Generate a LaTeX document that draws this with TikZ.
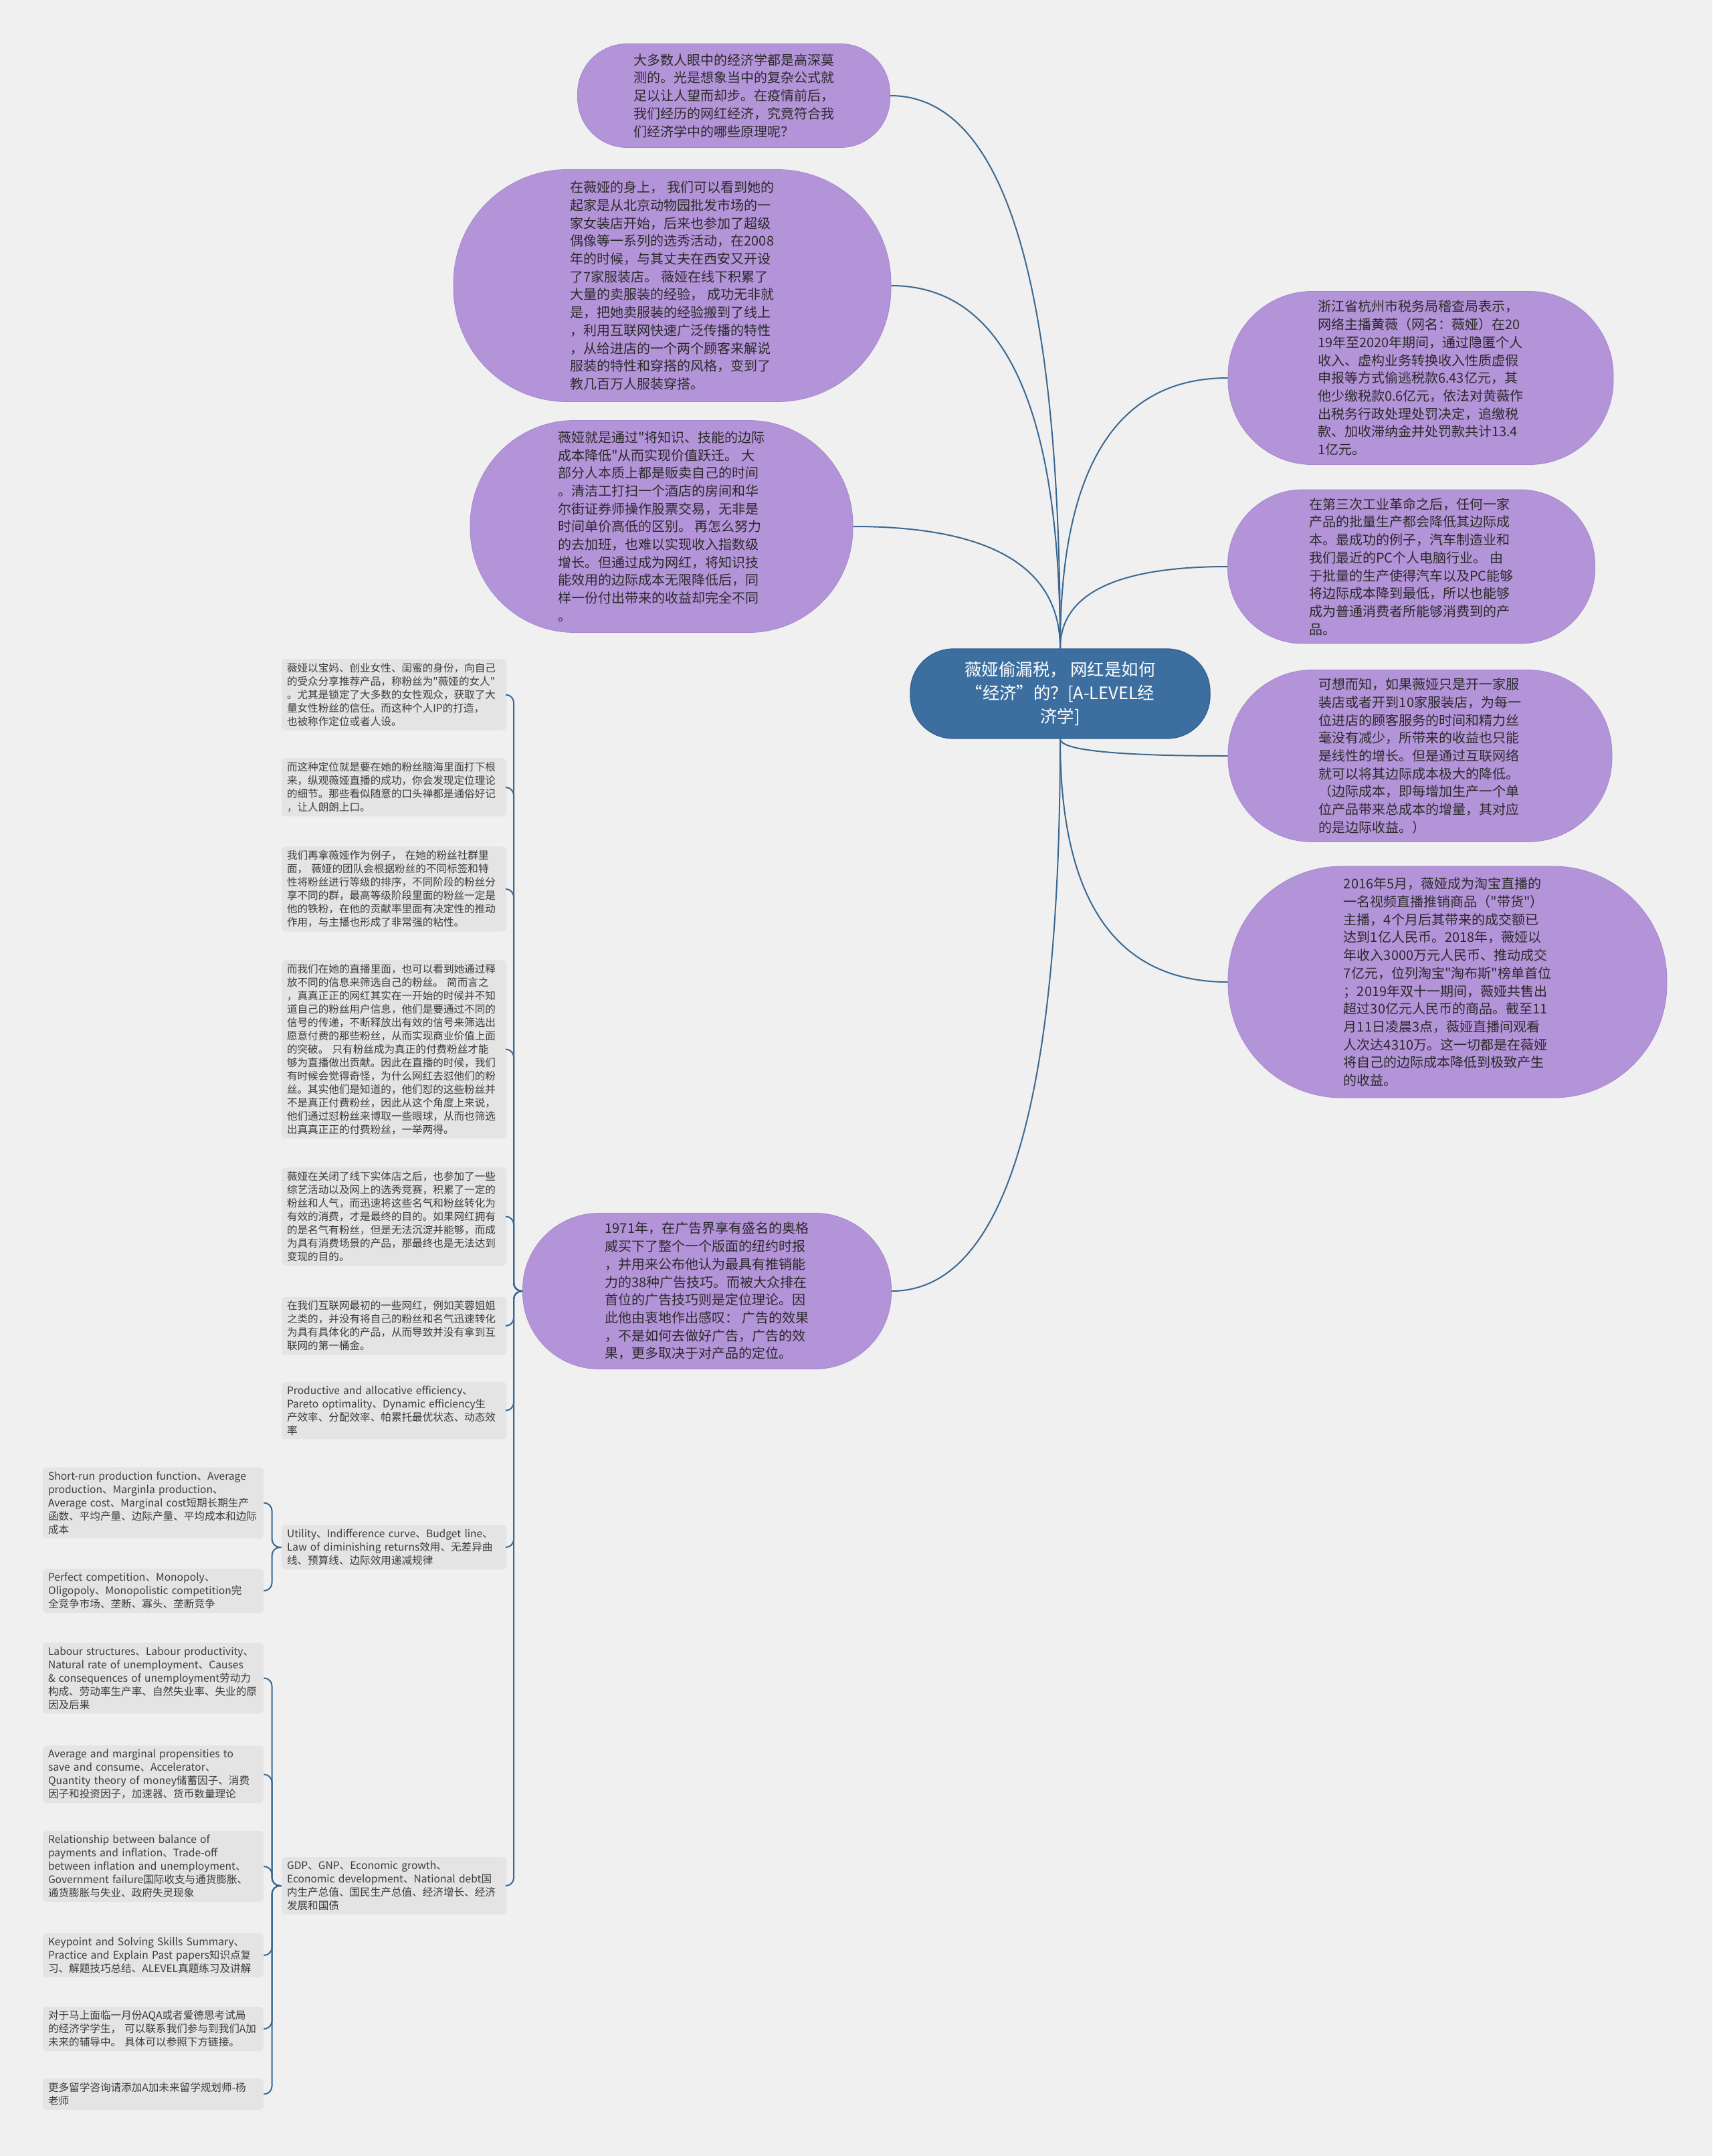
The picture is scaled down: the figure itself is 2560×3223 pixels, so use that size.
\documentclass[tikz,border=0pt]{standalone}
\usepackage{fontspec}
\setmainfont{Noto Sans CJK SC}
\newfontfamily\cjkfont{Noto Sans CJK SC}
\usetikzlibrary{calc}
\definecolor{bg}{HTML}{F0F0F0}
\definecolor{bubblefill}{HTML}{B494D8}
\definecolor{bubbleedge}{HTML}{A585CC}
\definecolor{centralfill}{HTML}{3C6FA0}
\definecolor{centraledge}{HTML}{2F5E8C}
\definecolor{linkcol}{HTML}{3A6891}
\definecolor{leaffill}{HTML}{E4E4E4}
\definecolor{ink}{HTML}{2A2A2A}
\definecolor{leafink}{HTML}{3C3C3C}
\tikzset{
  bubble/.style={draw=bubbleedge, line width=0.4pt, fill=bubblefill, text=ink, align=left, inner sep=0pt, font=\cjkfont\fontsize{10pt}{13.35pt}\selectfont},
  centralnode/.style={draw=centraledge, line width=0.6pt, fill=centralfill, text=white, align=center, inner sep=0pt, font=\cjkfont\fontsize{12.7pt}{17.5pt}\selectfont},
  leafbox/.style={fill=leaffill, rounded corners=3pt, text=leafink, text width=160pt, align=left, inner xsep=4pt, inner ysep=3pt, font=\cjkfont\fontsize{7.8pt}{10pt}\selectfont},
  subleaf/.style={leafbox, text width=157pt},
  conn/.style={draw=linkcol, line width=1pt},
  brk/.style={draw=linkcol, line width=1pt, rounded corners=6pt},
}
\newcommand\mmlink[3]{%
  \coordinate (#3) at (#1 |- #2);
  \draw[conn] (#1) .. controls ($(#1)!0.6667!(#3)$) and ($(#2)!0.6667!(#3)$) .. (#2);}
\begin{document}
\begin{tikzpicture}[x=0.5pt,y=-0.5pt]
\useasboundingbox (0,0) rectangle (2560,3223);
\fill[bg] (0,0) rectangle (2560,3223);

% central node
\node[centralnode, minimum width=224pt, minimum height=67pt, rounded corners=32pt] (c) at (1585,1037)
 {薇娅偷漏税， 网红是如何\\“经济”的？[A-LEVEL经\\济学]};

% left-side bubbles
\node[bubble, minimum width=233.5pt, minimum height=77.5pt, rounded corners=37pt] (t1) at (1097,143)
 {大多数人眼中的经济学都是高深莫\\测的。光是想象当中的复杂公式就\\足以让人望而却步。在疫情前后，\\我们经历的网红经济，究竟符合我\\们经济学中的哪些原理呢？};

\node[bubble, minimum width=327pt, minimum height=173.5pt, rounded corners=85pt] (t2) at (1005,427)
 {在薇娅的身上， 我们可以看到她的\\起家是从北京动物园批发市场的一\\家女装店开始，后来也参加了超级\\偶像等一系列的选秀活动，在2008\\年的时候，与其丈夫在西安又开设\\了7家服装店。 薇娅在线下积累了\\大量的卖服装的经验， 成功无非就\\是，把她卖服装的经验搬到了线上\\，利用互联网快速广泛传播的特性\\，从给进店的一个两个顾客来解说\\服装的特性和穿搭的风格，变到了\\教几百万人服装穿搭。};

\node[bubble, minimum width=286pt, minimum height=158.5pt, rounded corners=78pt] (t3) at (989,787)
 {薇娅就是通过"将知识、技能的边际\\成本降低"从而实现价值跃迁。 大\\部分人本质上都是贩卖自己的时间\\。清洁工打扫一个酒店的房间和华\\尔街证券师操作股票交易，无非是\\时间单价高低的区别。 再怎么努力\\的去加班，也难以实现收入指数级\\增长。但通过成为网红，将知识技\\能效用的边际成本无限降低后，同\\样一份付出带来的收益却完全不同\\。};

\node[bubble, minimum width=275.5pt, minimum height=116.5pt, rounded corners=57pt] (b) at (1057,1930)
 {1971年，在广告界享有盛名的奥格\\威买下了整个一个版面的纽约时报\\，并用来公布他认为最具有推销能\\力的38种广告技巧。而被大众排在\\首位的广告技巧则是定位理论。因\\此他由衷地作出感叹： 广告的效果\\，不是如何去做好广告，广告的效\\果，更多取决于对产品的定位。};

% right-side bubbles
\node[bubble, minimum width=288pt, minimum height=129.5pt, rounded corners=63pt] (r1) at (2124,565)
 {浙江省杭州市税务局稽查局表示，\\网络主播黄薇（网名：薇娅）在20\\19年至2020年期间，通过隐匿个人\\收入、虚构业务转换收入性质虚假\\申报等方式偷逃税款6.43亿元，其\\他少缴税款0.6亿元，依法对黄薇作\\出税务行政处理处罚决定，追缴税\\款、加收滞纳金并处罚款共计13.4\\1亿元。};

\node[bubble, minimum width=274.5pt, minimum height=115pt, rounded corners=56pt] (r2) at (2110,847)
 {在第三次工业革命之后，任何一家\\产品的批量生产都会降低其边际成\\本。最成功的例子，汽车制造业和\\我们最近的PC个人电脑行业。 由\\于批量的生产使得汽车以及PC能够\\将边际成本降到最低，所以也能够\\成为普通消费者所能够消费到的产\\品。};

\node[bubble, minimum width=287pt, minimum height=128.5pt, rounded corners=63pt] (r3) at (2123,1130)
 {可想而知，如果薇娅只是开一家服\\装店或者开到10家服装店，为每一\\位进店的顾客服务的时间和精力丝\\毫没有减少，所带来的收益也只能\\是线性的增长。但是通过互联网络\\就可以将其边际成本极大的降低。\\（边际成本，即每增加生产一个单\\位产品带来总成本的增量，其对应\\的是边际收益。）};

\node[bubble, minimum width=328pt, minimum height=173pt, rounded corners=85pt] (r4) at (2164,1468)
 {2016年5月，薇娅成为淘宝直播的\\一名视频直播推销商品（"带货"）\\主播，4个月后其带来的成交额已\\达到1亿人民币。2018年，薇娅以\\年收入3000万元人民币、推动成交\\7亿元，位列淘宝"淘布斯"榜单首位\\；2019年双十一期间，薇娅共售出\\超过30亿元人民币的商品。截至11\\月11日凌晨3点，薇娅直播间观看\\人次达4310万。这一切都是在薇娅\\将自己的边际成本降低到极致产生\\的收益。};

% left column leaves
\node[leafbox] (l1) at (589,1038.5)
 {薇娅以宝妈、创业女性、闺蜜的身份，向自己\\的受众分享推荐产品，称粉丝为"薇娅的女人"\\。尤其是锁定了大多数的女性观众，获取了大\\量女性粉丝的信任。而这种个人IP的打造，\\也被称作定位或者人设。};
\node[leafbox] (l2) at (589,1177)
 {而这种定位就是要在她的粉丝脑海里面打下根\\来，纵观薇娅直播的成功，你会发现定位理论\\的细节。那些看似随意的口头禅都是通俗好记\\，让人朗朗上口。};
\node[leafbox] (l3) at (589,1329)
 {我们再拿薇娅作为例子， 在她的粉丝社群里\\面， 薇娅的团队会根据粉丝的不同标签和特\\性将粉丝进行等级的排序，不同阶段的粉丝分\\享不同的群，最高等级阶段里面的粉丝一定是\\他的铁粉，在他的贡献率里面有决定性的推动\\作用，与主播也形成了非常强的粘性。};
\node[leafbox] (l4) at (589,1568.5)
 {而我们在她的直播里面，也可以看到她通过释\\放不同的信息来筛选自己的粉丝。 简而言之\\，真真正正的网红其实在一开始的时候并不知\\道自己的粉丝用户信息，他们是要通过不同的\\信号的传递，不断释放出有效的信号来筛选出\\愿意付费的那些粉丝，从而实现商业价值上面\\的突破。 只有粉丝成为真正的付费粉丝才能\\够为直播做出贡献。因此在直播的时候，我们\\有时候会觉得奇怪，为什么网红去怼他们的粉\\丝。其实他们是知道的，他们怼的这些粉丝并\\不是真正付费粉丝，因此从这个角度上来说，\\他们通过怼粉丝来博取一些眼球，从而也筛选\\出真真正正的付费粉丝，一举两得。};
\node[leafbox] (l5) at (589,1818.5)
 {薇娅在关闭了线下实体店之后，也参加了一些\\综艺活动以及网上的选秀竞赛，积累了一定的\\粉丝和人气，而迅速将这些名气和粉丝转化为\\有效的消费，才是最终的目的。如果网红拥有\\的是名气有粉丝，但是无法沉淀并能够，而成\\为具有消费场景的产品，那最终也是无法达到\\变现的目的。};
\node[leafbox] (l6) at (589,1982)
 {在我们互联网最初的一些网红，例如芙蓉姐姐\\之类的，并没有将自己的粉丝和名气迅速转化\\为具有具体化的产品，从而导致并没有拿到互\\联网的第一桶金。};
\node[leafbox] (l7) at (589,2108.5)
 {Productive and allocative efficiency、\\Pareto optimality、Dynamic efficiency生\\产效率、分配效率、帕累托最优状态、动态效\\率};
\node[leafbox] (u) at (589,2313)
 {Utility、Indifference curve、Budget line、\\Law of diminishing returns效用、无差异曲\\线、预算线、边际效用递减规律};
\node[leafbox] (g) at (589,2819)
 {GDP、GNP、Economic growth、\\Economic development、National debt国\\内生产总值、国民生产总值、经济增长、经济\\发展和国债};

% sub leaves
\node[subleaf] (s1) at (229,2246.5)
 {Short-run production function、Average\\production、Marginla production、\\Average cost、Marginal cost短期长期生产\\函数、平均产量、边际产量、平均成本和边际\\成本};
\node[subleaf] (s2) at (229,2378)
 {Perfect competition、Monopoly、\\Oligopoly、Monopolistic competition完\\全竞争市场、垄断、寡头、垄断竞争};
\node[subleaf] (s3) at (229,2508.5)
 {Labour structures、Labour productivity、\\Natural rate of unemployment、Causes\\\& consequences of unemployment劳动力\\构成、劳动率生产率、自然失业率、失业的原\\因及后果};
\node[subleaf] (s4) at (229,2652.5)
 {Average and marginal propensities to\\save and consume、Accelerator、\\Quantity theory of money储蓄因子、消费\\因子和投资因子，加速器、货币数量理论};
\node[subleaf] (s5) at (229,2790)
 {Relationship between balance of\\payments and inflation、Trade-off\\between inflation and unemployment、\\Government failure国际收支与通货膨胀、\\通货膨胀与失业、政府失灵现象};
\node[subleaf] (s6) at (229,2923)
 {Keypoint and Solving Skills Summary、\\Practice and Explain Past papers知识点复\\习、解题技巧总结、ALEVEL真题练习及讲解};
\node[subleaf] (s7) at (229,3033)
 {对于马上面临一月份AQA或者爱德思考试局\\的经济学学生， 可以联系我们参与到我们A加\\未来的辅导中。 具体可以参照下方链接。};
\node[subleaf] (s8) at (229,3130.5)
 {更多留学咨询请添加A加未来留学规划师-杨\\老师};

% connectors from the central node
\mmlink{c.north}{t1.east}{k1}
\mmlink{c.north}{t2.east}{k2}
\mmlink{c.north}{t3.east}{k3}
\mmlink{c.north}{r1.west}{k4}
\mmlink{c.north}{r2.west}{k5}
\mmlink{c.south}{r3.west}{k6}
\mmlink{c.south}{r4.west}{k7}
\mmlink{c.south}{b.east}{k8}

% bracket from bottom bubble to left column
\foreach \n in {l1,l2,l3,l4,l5,l6,l7,u,g}
  \draw[brk] (b.west) -- ++(-13,0) |- (\n.east);
% brackets for sub leaves
\foreach \n in {s1,s2}
  \draw[brk] (u.west) -- ++(-14,0) |- (\n.east);
\foreach \n in {s3,s4,s5,s6,s7,s8}
  \draw[brk] (g.west) -- ++(-14,0) |- (\n.east);
\end{tikzpicture}
\end{document}
